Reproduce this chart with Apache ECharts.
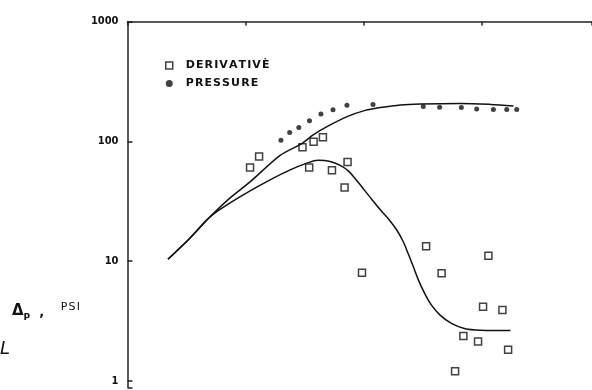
<!DOCTYPE html>
<html>
<head>
<meta charset="utf-8">
<script src="https://cdn.jsdelivr.net/npm/echarts@6/dist/echarts.min.js"></script>
<style>html,body{margin:0;padding:0;background:#fff}#c{width:592px;height:390px}</style>
</head>
<body>
<div id="c"></div>
<script>
// Derivative points [time, dp']
var derivX = [10.9, 13.0, 30.3, 37.6, 45.1, 34.5, 53.8, 72.9, 68.8, 96.6, 337, 456, 1135, 1023, 1492, 697, 928, 1667, 593];
var derivY = [60.3, 74.5, 89.3, 98.9, 108.2, 60.3, 57.4, 67.3, 41.1, 7.97, 13.3, 7.93, 11.05, 4.15, 3.91, 2.37, 2.13, 1.82, 1.205];
// Pressure points
var presX = [19.9, 23.6, 28.2, 34.7, 43.4, 54.9, 72.0, 119.7, 319, 439, 670, 903, 1251, 1623, 1972];
var presY = [102.1, 118.2, 130.6, 148.6, 168.7, 183.6, 199.5, 202.5, 194.9, 192.6, 191.1, 186.4, 183.9, 183.9, 183.9];
// Type curve: pressure
var pCurveX = [2.20, 3.39, 5.00, 7.39, 10.9, 19.6, 30.1, 37.3, 52.0, 72.4, 103, 138, 204, 301, 657, 1180, 1849];
var pCurveY = [10.37, 15.6, 23.4, 33.7, 45.8, 76.3, 96.0, 113.0, 137.0, 160.8, 181.1, 191.1, 201.3, 205.2, 207.2, 203.2, 197.4];
// Type curve: derivative
var dCurveX = [2.20, 3.39, 5.00, 7.39, 10.9, 16.1, 23.8, 32.6, 41.1, 52.0, 63.2, 73.9, 86.4, 101, 118, 141, 164, 192, 216, 238, 263, 290, 326, 373, 445, 552, 711, 971, 1744];
var dCurveY = [10.37, 15.6, 23.4, 30.6, 38.5, 47.6, 57.7, 65.4, 69.3, 67.9, 62.9, 56.6, 47.6, 39.3, 32.4, 26.2, 22.1, 17.9, 14.5, 11.5, 8.95, 6.97, 5.43, 4.31, 3.52, 3.02, 2.74, 2.65, 2.63];
var yTicks = [1, 10, 100, 1000];

function zip(a, b) { return a.map(function (v, i) { return [v, b[i]]; }); }

var chart = echarts.init(document.getElementById('c'), null, { renderer: 'canvas' });
chart.setOption({
  animation: false,
  backgroundColor: '#ffffff',
  grid: { left: 127.5, right: 0, top: 21.5, height: 366 },
  legend: {
    left: 160, top: 55, orient: 'vertical', itemGap: 7,
    itemWidth: 7, itemHeight: 7,
    textStyle: { fontFamily: 'DejaVu Sans', fontSize: 11, fontWeight: 'bold', color: '#111', padding: [0, 0, 0, 8] },
    data: [
      { name: 'DERIVATIVÈ', icon: 'rect', itemStyle: { color: '#fff', borderColor: '#111', borderWidth: 1.5 } },
      { name: 'PRESSURE', icon: 'circle', itemStyle: { color: '#111' } }
    ],
    formatter: function (n) { return n.split('').join('\u200A'); }
  },
  xAxis: {
    type: 'log', min: 1, max: 8551, logBase: 10, position: 'top',
    axisLine: { show: true, lineStyle: { color: '#222', width: 1.5 } },
    axisTick: { show: true, inside: true, length: 4, lineStyle: { color: '#222', width: 1.5 } },
    minorTick: { show: false },
    axisLabel: { show: false },
    splitLine: { show: false }
  },
  yAxis: {
    type: 'log', min: 0.88, max: 1000, logBase: 10,
    axisLine: { show: true, lineStyle: { color: '#222', width: 1.5 } },
    axisTick: { show: true, inside: true, length: 5, lineStyle: { color: '#222', width: 1.5 } },
    axisLabel: {
      show: true, margin: 9, color: '#111', fontFamily: 'DejaVu Sans Condensed', fontWeight: 'bold', fontSize: 11,
      formatter: function (v) {
        for (var i = 0; i < yTicks.length; i++) { if (Math.abs(v - yTicks[i]) < 1e-6 * yTicks[i]) return String(yTicks[i]); }
        return '';
      }
    },
    splitLine: { show: false }
  },
  series: [
    { name: 'pcurve', type: 'line', data: zip(pCurveX, pCurveY), smooth: 0.3, symbol: 'none',
      lineStyle: { color: '#111', width: 1.5 }, silent: true },
    { name: 'dcurve', type: 'line', data: zip(dCurveX, dCurveY), smooth: 0.4, symbol: 'none',
      lineStyle: { color: '#111', width: 1.5 }, silent: true },
    { name: 'DERIVATIVÈ', type: 'scatter', data: zip(derivX, derivY), symbol: 'rect', symbolSize: 7,
      itemStyle: { color: '#fff', borderColor: '#111', borderWidth: 1.5 } },
    { name: 'PRESSURE', type: 'scatter', data: zip(presX, presY), symbol: 'circle', symbolSize: 5,
      itemStyle: { color: '#111' } }
  ],
  graphic: [
    { type: 'text', left: 12, top: 302, style: {
      text: '{d|Δ}{s|P}{c|  ,}     {u|P\u200AS\u200AI}',
      rich: {
        d: { fontFamily: 'DejaVu Sans', fontWeight: 'bold', fontSize: 15, fill: '#111', verticalAlign: 'bottom' },
        s: { fontFamily: 'DejaVu Sans', fontWeight: 'bold', fontSize: 9, fill: '#111', verticalAlign: 'bottom', padding: [0, 0, -3, 0] },
        c: { fontFamily: 'DejaVu Sans', fontWeight: 'bold', fontSize: 13, fill: '#111', verticalAlign: 'bottom' },
        u: { fontFamily: 'DejaVu Sans', fontSize: 11, fill: '#111', verticalAlign: 'bottom', padding: [0, 0, 6, 0] }
      } } },
    { type: 'text', left: 0, top: 340, style: { text: 'L', fontFamily: 'DejaVu Sans', fontStyle: 'italic', fontSize: 18, fill: '#111' } }
  ]
});
</script>
</body>
</html>
